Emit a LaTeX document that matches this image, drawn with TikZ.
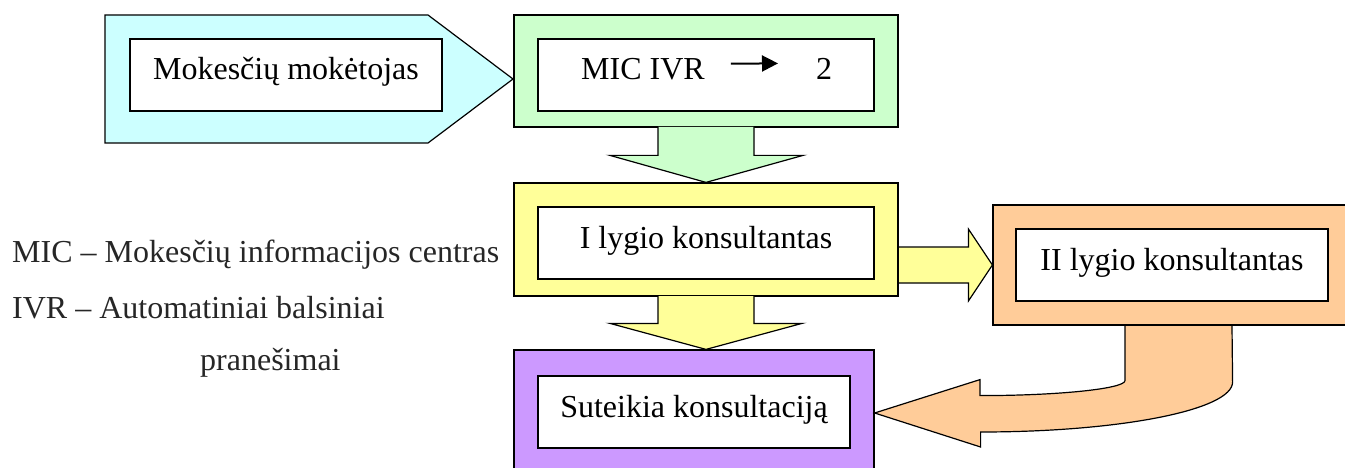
\documentclass[tikz,border=0pt]{standalone}
\usepackage{fontspec}
\setmainfont{Liberation Serif}
\usepackage{tikz}
\usetikzlibrary{arrows.meta}
\usetikzlibrary{positioning}

\definecolor{cyanfill}{HTML}{CCFFFF}
\definecolor{greenfill}{HTML}{CCFFCC}
\definecolor{yellowfill}{HTML}{FFFF99}
\definecolor{purplefill}{HTML}{CC99FF}
\definecolor{orangefill}{HTML}{FFCC99}

\tikzset{
  frame/.style={draw, line width=1.2pt, inner sep=0pt},
  labelbox/.style={draw, fill=white, line width=1.2pt, inner sep=0pt, text height=41pt, text depth=31pt},
  blockarrow/.style={draw, line width=1.2pt, line join=miter},
  legend/.style={anchor=base west, inner sep=0pt, text=black!85}
}

\begin{document}
\begin{tikzpicture}[x=1pt, y=-1pt, font=\fontsize{32}{38}\selectfont]
      \useasboundingbox (0,0) rectangle (1345,468);

      % boxes
      \draw[line width=1.2pt, fill=cyanfill] (105,15) -- (428,15) -- (513,79) -- (428,143) -- (105,143) -- cycle;
      \node[labelbox, minimum width=312pt] (payer) at (286,75) {Mokesčių mokėtojas};

      \node[frame, fill=greenfill, minimum width=384pt, minimum height=112pt] (ivr) at (706,71) {};
      \node[labelbox, minimum width=336pt] (ivrlabel) at (706,75) {};
      \node[anchor=base west, inner sep=0pt] (ivrtxt) at (581,80) {MIC IVR};
      \node[anchor=base west, inner sep=0pt] (ivrtwo) at (816,80) {2};
      \draw[-{Triangle[length=16pt,width=16pt]}, line width=2pt] ([xshift=26pt,yshift=6pt]ivrtxt.east) -- ([xshift=-38pt,yshift=6pt]ivrtwo.west);

      \node[frame, fill=yellowfill, minimum width=384pt, minimum height=113pt] (lvl1) at (706,239.5) {};
      \node[labelbox, minimum width=336pt] (lvl1label) at (706,243) {I lygio konsultantas};

      \node[frame, fill=purplefill, minimum width=360pt, minimum height=126pt] (advice) at (694,413) {};
      \node[labelbox, minimum width=312pt] (advicelabel) at (694,412) {Suteikia konsultaciją};

      \node[frame, fill=orangefill, minimum width=357pt, minimum height=120pt] (lvl2) at (1171.5,265) {};
      \node[labelbox, minimum width=312pt] (lvl2label) at (1172,265) {II lygio konsultantas};

      % block arrows
      \coordinate (tipA) at (ivr.south |- lvl1.north);
      \draw[blockarrow, fill=greenfill] ([xshift=-48pt,yshift=0.6pt]ivr.south) -- ([xshift=-48pt,yshift=27pt]tipA) -- ([xshift=-96pt,yshift=27pt]tipA) -- (tipA)
          -- ([xshift=97pt,yshift=27pt]tipA) -- ([xshift=48pt,yshift=27pt]tipA) -- ([xshift=48pt,yshift=0.6pt]ivr.south);

      \coordinate (tipB) at (lvl1.south |- advice.north);
      \draw[blockarrow, fill=yellowfill] ([xshift=-48pt,yshift=0.6pt]lvl1.south) -- ([xshift=-48pt,yshift=26pt]tipB) -- ([xshift=-96pt,yshift=26pt]tipB) -- (tipB)
          -- ([xshift=96pt,yshift=26pt]tipB) -- ([xshift=48pt,yshift=26pt]tipB) -- ([xshift=48pt,yshift=0.6pt]lvl1.south);

      \coordinate (lvl1out) at (lvl1.east |- lvl2.west);
      \draw[blockarrow, fill=yellowfill] ([xshift=0.6pt,yshift=18pt]lvl1out) -- ([xshift=-24pt,yshift=18pt]lvl2.west) -- ([xshift=-24pt,yshift=36pt]lvl2.west) -- (lvl2.west)
          -- ([xshift=-24pt,yshift=-36pt]lvl2.west) -- ([xshift=-24pt,yshift=-18pt]lvl2.west) -- ([xshift=0.6pt,yshift=-18pt]lvl1out);

      \draw[blockarrow, fill=orangefill] ([xshift=-46.5pt,yshift=-0.6pt]lvl2.south) -- ++(0,54.4) .. controls +(0,8) and +(80,0) .. ++(-145,15) -- ++(0,-16) -- (advice.east)
          -- ++(106,34) -- ++(0,-15) .. controls +(139,0) and +(0,28) .. ++(252,-50) -- ([xshift=60.5pt,yshift=-0.6pt]lvl2.south);

      % legend
      \node[legend] (micdef) at (12,262) {MIC -- Mokesčių informacijos centras};
      \node[legend] (ivrdef) at (12,318) {IVR -- Automatiniai balsiniai};
      \node[legend] (ivrdefcont) at (200,370) {pranešimai};
\end{tikzpicture}
\end{document}
